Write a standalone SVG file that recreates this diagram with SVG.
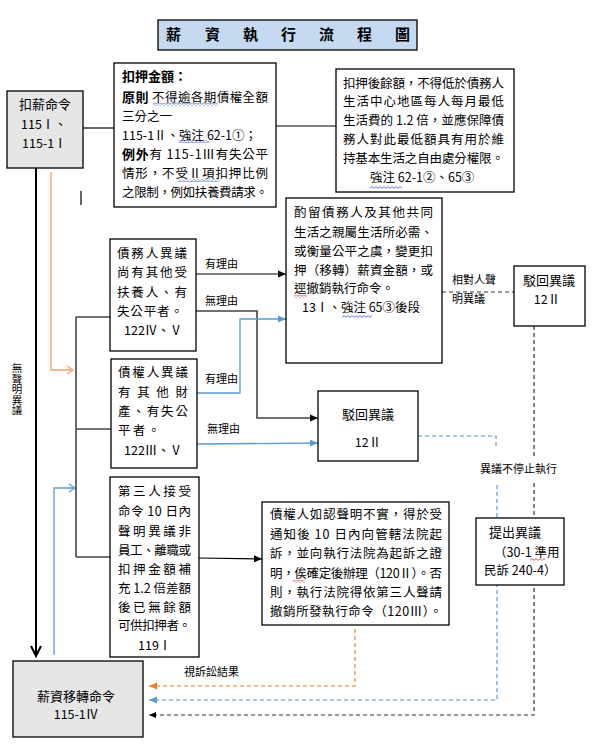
<svg xmlns="http://www.w3.org/2000/svg" width="597" height="754" viewBox="0 0 597 754">
<style>
text{font-family:"Noto Sans CJK TC","Noto Sans CJK SC",sans-serif;font-size:12.5px;fill:#000}
.b{font-weight:bold}
.t13{font-size:13px}
.lbl{font-size:11px}
.box{fill:#fff;stroke:#000;stroke-width:1.3}
.gray{fill:#e6e6e6;stroke:#000;stroke-width:1.3}
.ln{fill:none;stroke:#000;stroke-width:1.2}
.blue{fill:none;stroke:#5B9BD5;stroke-width:1.3}
.org{fill:none;stroke:#F4A46A;stroke-width:1.3}
.dk{fill:none;stroke:#444;stroke-width:1.6}
.dashK{fill:none;stroke:#333;stroke-width:1.2;stroke-dasharray:4 3}
.dashB{fill:none;stroke:#85B5E0;stroke-width:1.6;stroke-dasharray:4 3}
.dashO{fill:none;stroke:#F4A46A;stroke-width:1.6;stroke-dasharray:4 3}
</style>
<defs>
<marker id="aK" markerUnits="userSpaceOnUse" markerWidth="8" markerHeight="8" refX="8" refY="4" orient="auto"><path d="M0,0.5 L8,4 L0,7.5 z" fill="#000"/></marker>
<marker id="aB" markerUnits="userSpaceOnUse" markerWidth="8" markerHeight="8" refX="8" refY="4" orient="auto"><path d="M0,0.5 L8,4 L0,7.5 z" fill="#5B9BD5"/></marker>
<marker id="aO" markerUnits="userSpaceOnUse" markerWidth="8" markerHeight="8" refX="8" refY="4" orient="auto"><path d="M0,0.5 L8,4 L0,7.5 z" fill="#ED7D31"/></marker>
<marker id="aKs" markerUnits="userSpaceOnUse" markerWidth="7" markerHeight="7" refX="7" refY="3.5" orient="auto"><path d="M0,0.5 L7,3.5 L0,6.5 z" fill="#000"/></marker>
<pattern id="wvB" patternUnits="userSpaceOnUse" width="4" height="3"><polyline points="0,0.6 2,2.4 4,0.6" fill="none" stroke="#3355dd" stroke-width="0.8"/></pattern>
<pattern id="wvR" patternUnits="userSpaceOnUse" width="4" height="3"><polyline points="0,0.6 2,2.4 4,0.6" fill="none" stroke="#e02020" stroke-width="0.8"/></pattern>
</defs>

<g id="title">
<rect x="158" y="20" width="259" height="30" fill="#C5D9F1" stroke="#000" stroke-width="1.3"/>
<text class="b" style="font-size:15px" x="166 205 243 281 319 357 395" y="40">薪資執行流程圖</text>
</g>

<g id="connectors">
<line class="ln" x1="83" y1="128" x2="114" y2="128"/>
<line class="ln" x1="276" y1="126" x2="336" y2="126"/>
<line class="ln" x1="81" y1="191" x2="81" y2="205"/>
<line x1="36" y1="168" x2="36" y2="656" stroke="#000" stroke-width="2"/>
<polyline points="31,646 36,656 41,646" fill="none" stroke="#000" stroke-width="2"/>
<polyline class="org" points="51,172 51,370 73,370"/>
<polyline class="org" points="67,366 73,370 67,374"/>
<polyline class="blue" points="54,655 54,488 75,488" stroke-width="1"/>
<polyline class="blue" points="69,484 75,488 69,492" stroke-width="1"/>
<line class="dk" x1="76" y1="317" x2="76" y2="557"/>
<line class="dk" x1="76" y1="317" x2="110" y2="317"/>
<line class="dk" x1="76" y1="429" x2="111" y2="429"/>
<line class="dk" x1="76" y1="557" x2="110" y2="557"/>
<line class="ln" x1="196" y1="274" x2="286" y2="274" marker-end="url(#aK)"/>
<polyline class="dk" points="196,311 257,311 257,418 318,418" marker-end="url(#aK)"/>
<polyline class="blue" points="197,393 240,393 240,319 286,319" marker-end="url(#aB)"/>
<line class="blue" x1="197" y1="444" x2="318" y2="443" marker-end="url(#aB)"/>
<line class="dashK" x1="442" y1="292" x2="514" y2="292"/>
<path class="dashK" d="M534,326 V458 M534,483 V715 H149" marker-end="url(#aKs)"/>
<path class="dashB" d="M418,436 H496 V448 M497,485 V700 H149" marker-end="url(#aB)"/>
<path class="dashO" d="M355,629 V686 H149" marker-end="url(#aO)"/>
<line class="ln" x1="199" y1="558" x2="262" y2="559" marker-end="url(#aK)"/>
<text class="lbl" x="205" y="268">有理由</text>
<text class="lbl" x="205" y="305">無理由</text>
<text class="lbl" x="205" y="383">有理由</text>
<text class="lbl" x="207" y="433">無理由</text>
<text class="lbl" x="452" y="284">相對人聲</text>
<text class="lbl" x="452" y="303">明異議</text>
<text class="lbl" x="480" y="473">異議不停止執行</text>
<text class="lbl" x="184" y="676">視訴訟結果</text>
<text class="lbl" x="17" y="363" style="writing-mode:vertical-rl;font-size:10.5px">無聲明異議</text>
</g>

<g id="node-kouxin">
<rect class="gray" x="7" y="91" width="76" height="77"/>
<text class="t13" x="19" y="109">扣薪命令</text>
<text x="21" y="129">115Ⅰ、</text>
<text x="22" y="148">115-1Ⅰ</text>
</g>

<g id="node-amount">
<rect class="box" x="114" y="63" width="162" height="144"/>
<text class="b t13" x="122" y="81">扣押金額：</text>
<text x="122" y="102" textLength="146"><tspan class="b t13">原則</tspan> 不得逾各期債權全額</text>
<text x="122" y="121">三分之一</text>
<text x="122" y="140">115-1Ⅱ、強注 62-1①；</text>
<text x="122" y="159" textLength="146"><tspan class="b t13">例外</tspan>有 115-1Ⅲ有失公平</text>
<text x="122" y="178" textLength="146">情形，不受Ⅱ項扣押比例</text>
<text x="122" y="197" textLength="146">之限制，例如扶養費請求。</text>
<rect x="153" y="103" width="65" height="3" fill="url(#wvB)"/>
<rect x="178" y="140" width="31" height="3" fill="url(#wvB)"/>
<rect x="178" y="179" width="41" height="3" fill="url(#wvB)"/>
</g>

<g id="node-remain">
<rect class="box" x="336" y="69" width="178" height="123"/>
<text x="343" y="88" textLength="161">扣押後餘額，不得低於債務人</text>
<text x="343" y="106" textLength="161">生活中心地區每人每月最低</text>
<text x="343" y="125" textLength="161">生活費的 1.2 倍，並應保障債</text>
<text x="343" y="144" textLength="161">務人對此最低額具有用於維</text>
<text x="343" y="163" textLength="161">持基本生活之自由處分權限。</text>
<text x="370" y="182">強注 62-1②、65③</text>
<rect x="370" y="186" width="32" height="3" fill="url(#wvB)"/>
</g>

<g id="node-change">
<rect class="box" x="286" y="198" width="156" height="165"/>
<text x="294" y="216.5" textLength="139">酌留債務人及其他共同</text>
<text x="294" y="236.5" textLength="139">生活之親屬生活所必需、</text>
<text x="294" y="255.5" textLength="139">或衡量公平之虞，變更扣</text>
<text x="294" y="274.5" textLength="139">押（移轉）薪資金額，或</text>
<text x="294" y="293">逕撤銷執行命令。</text>
<text x="302" y="312">13Ⅰ、強注 65③後段</text>
<rect x="294" y="295" width="13" height="3" fill="url(#wvR)"/>
<rect x="342" y="315" width="30" height="3" fill="url(#wvB)"/>
</g>

<g id="node-reject-right">
<rect class="box" x="514" y="266" width="71" height="60"/>
<text class="t13" x="549" y="285" text-anchor="middle">駁回異議</text>
<text x="547" y="304" text-anchor="middle">12Ⅱ</text>
</g>

<g id="node-debtor">
<rect class="box" x="110" y="239" width="86" height="112"/>
<text x="117" y="257.5" textLength="70">債務人異議</text>
<text x="117" y="276.5" textLength="70">尚有其他受</text>
<text x="117" y="296.5" textLength="70">扶養人、有</text>
<text x="117" y="315.5" textLength="66">失公平者。</text>
<text x="124" y="334.5">122Ⅳ、Ⅴ</text>
</g>

<g id="node-creditor">
<rect class="box" x="111" y="359" width="86" height="109"/>
<text x="118" y="377" textLength="70">債權人異議</text>
<text x="118" y="397" textLength="70">有其他財</text>
<text x="118" y="416" textLength="70">產、有失公</text>
<text x="118" y="434.5" textLength="42">平者。</text>
<text x="124" y="454.5">122Ⅲ、Ⅴ</text>
</g>

<g id="node-third">
<rect class="box" x="110" y="477" width="89" height="180"/>
<text x="118" y="496" textLength="73">第三人接受</text>
<text x="118" y="516" textLength="73">命令 10 日內</text>
<text x="118" y="535.5" textLength="73">聲明異議非</text>
<text x="118" y="554.5" textLength="73">員工、離職或</text>
<text x="118" y="573.5" textLength="73">扣押金額補</text>
<text x="118" y="592.5" textLength="73">充 1.2 倍差額</text>
<text x="118" y="612" textLength="73">後已無餘額</text>
<text x="118" y="630" textLength="73">可供扣押者。</text>
<text x="138" y="650">119Ⅰ</text>
</g>

<g id="node-reject-mid">
<rect class="box" x="318" y="391" width="100" height="70"/>
<text class="t13" x="368" y="418.5" text-anchor="middle">駁回異議</text>
<text x="368" y="446.5" text-anchor="middle">12Ⅱ</text>
</g>

<g id="node-sue">
<rect class="box" x="262" y="502" width="187" height="123"/>
<text x="270" y="518.5" textLength="172">債權人如認聲明不實，得於受</text>
<text x="270" y="538.5" textLength="172">通知後 10 日內向管轄法院起</text>
<text x="270" y="557.5" textLength="172">訴，並向執行法院為起訴之證</text>
<text x="270" y="577.5" textLength="172">明，俟確定後辦理（120Ⅱ）。否</text>
<text x="270" y="596.5" textLength="172">則，執行法院得依第三人聲請</text>
<text x="270" y="615.5" textLength="172">撤銷所發執行命令（120Ⅲ）。</text>
<rect x="293" y="580" width="12" height="3" fill="url(#wvR)"/>
</g>

<g id="node-object">
<rect class="box" x="476" y="518" width="88" height="67"/>
<text class="t13" x="489" y="536.5">提出異議</text>
<text x="494" y="556.5">（30-1 準用</text>
<text x="484" y="574.5">民訴 240-4）</text>
<rect x="530" y="558" width="15" height="3" fill="url(#wvR)"/>
</g>

<g id="node-transfer">
<rect class="gray" x="13" y="661" width="130" height="76"/>
<text class="t13" x="76" y="700.5" text-anchor="middle">薪資移轉命令</text>
<text x="76" y="719" text-anchor="middle">115-1Ⅳ</text>
</g>
</svg>
